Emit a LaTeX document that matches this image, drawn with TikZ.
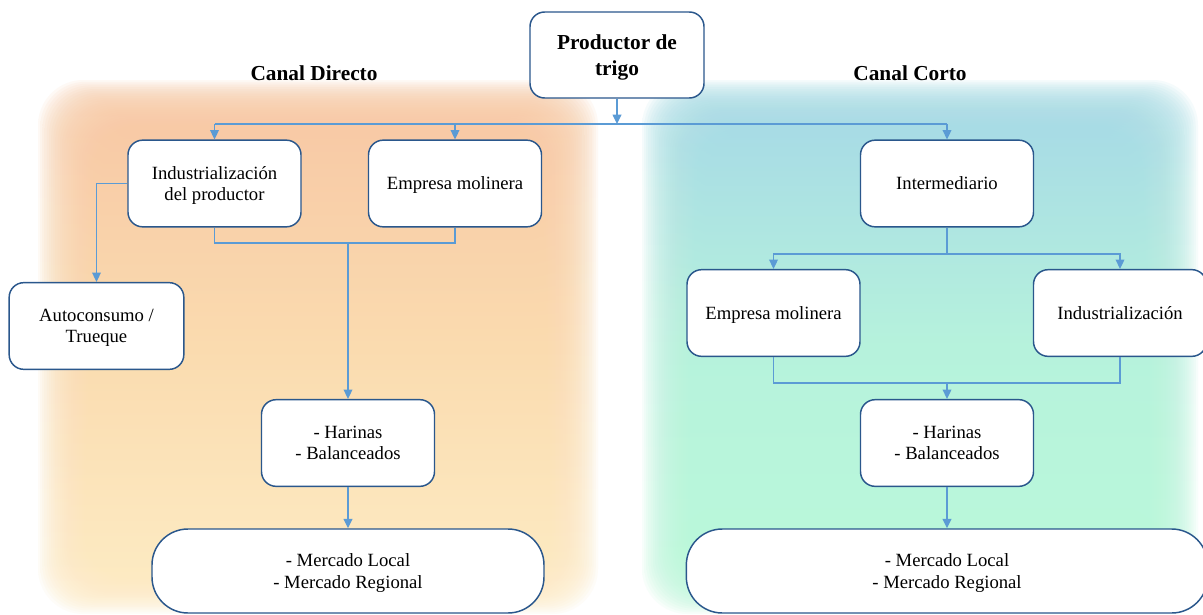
\documentclass[tikz,border=0pt]{standalone}
\usepackage{fontspec}
\setmainfont{Liberation Serif}
\usetikzlibrary{arrows.meta,calc}
\definecolor{boxline}{HTML}{2A578C}
\definecolor{conn}{HTML}{5B9BD5}
\definecolor{orTop}{HTML}{F8CAA6}
\definecolor{orMid}{HTML}{FADBAF}
\definecolor{orBot}{HTML}{FDEBC2}
\definecolor{tlTop}{HTML}{A8DCE6}
\definecolor{tlMid}{HTML}{B6F2DC}
\definecolor{tlBot}{HTML}{BAF9DA}
\begin{document}
\begin{tikzpicture}[x=0.75pt,y=-0.75pt,
  box/.style={draw=boxline, line width=1.1pt, fill=white, rounded corners=11pt,
    align=center, inner sep=2pt, text depth=0pt, font=\fontsize{14}{15.5}\selectfont,
    minimum width=129.75pt, minimum height=65pt},
  bigbox/.style={box, rounded corners=27pt, minimum height=63pt,
    font=\fontsize{14}{16.5}\selectfont},
  title/.style={font=\bfseries\fontsize{16}{20}\selectfont, align=center},
  link/.style={draw=conn, line width=1.1pt},
  arr/.style={link, -{Triangle[length=7pt,width=6.5pt]}},
  glowor/.style={top color=orTop, bottom color=orBot, middle color=orMid, opacity=0.11},
  glowtl/.style={top color=tlTop, bottom color=tlBot, middle color=tlMid, opacity=0.11}]
\useasboundingbox (0,0) rectangle (1203,614);
\fill[white] (0,0) rectangle (1203,614);
% soft backgrounds
\foreach \i in {0,...,29}{
  \shade[glowor, rounded corners=34pt] (38+2.2*\i,80+1.8*\i) rectangle (598-2.2*\i,614-1.8*\i);
  \shade[glowtl, rounded corners=34pt] (642+2.2*\i,80+1.8*\i) rectangle (1198-2.2*\i,614-1.8*\i);
}
% titles
\node[title] (cd) at (314,73) {Canal Directo};
\node[title] (cc) at (910,73) {Canal Corto};
% boxes
\node[box, title, text depth=0pt, minimum width=130.5pt, minimum height=64.5pt] (prod) at (617,55) {Productor de\\trigo};
\node[box] (ind) at (214.5,183.5) {Industrialización\\del productor};
\node[box] (emp1) at (455,183.5) {Empresa molinera};
\node[box] (inter) at (947,183.5) {Intermediario};
\node[box, minimum width=131pt] (auto) at (96.5,326) {Autoconsumo /\\Trueque};
\node[box] (har1) at (348,443) {- Harinas\\- Balanceados};
\node[bigbox, minimum width=294pt] (merc1) at (348,571) {- Mercado Local\\- Mercado Regional};
\node[box] (emp2) at (773.5,313) {Empresa molinera};
\node[box] (ind2) at (1120,313) {Industrialización};
\node[box] (har2) at (947,443) {- Harinas\\- Balanceados};
\node[bigbox, minimum width=391pt] (merc2) at (947,571) {- Mercado Local\\- Mercado Regional};
% junctions
\coordinate (j0) at (617,124);
\coordinate (m1) at (348,243);
\coordinate (j2) at (947,254);
\coordinate (j3) at (947,383);
% connectors
\draw[link] (ind.north |- j0) -- (inter.north |- j0);
\draw[arr] (prod.south) -- (j0);
\draw[arr] (ind.north |- j0) -- (ind.north);
\draw[arr] (emp1.north |- j0) -- (emp1.north);
\draw[arr] (inter.north |- j0) -- (inter.north);
\draw[arr] (ind.west) -| (auto.north);
\draw[link] (ind.south) |- (m1) -| (emp1.south);
\draw[arr] (m1) -- (har1.north);
\draw[arr] (har1.south) -- (merc1.north);
\draw[link] (inter.south) -- (j2);
\draw[arr] (j2) -| (emp2.north);
\draw[arr] (j2) -| (ind2.north);
\draw[link] (emp2.south) |- (j3) -| (ind2.south);
\draw[arr] (j3) -- (har2.north);
\draw[arr] (har2.south) -- (merc2.north);
\end{tikzpicture}
\end{document}
